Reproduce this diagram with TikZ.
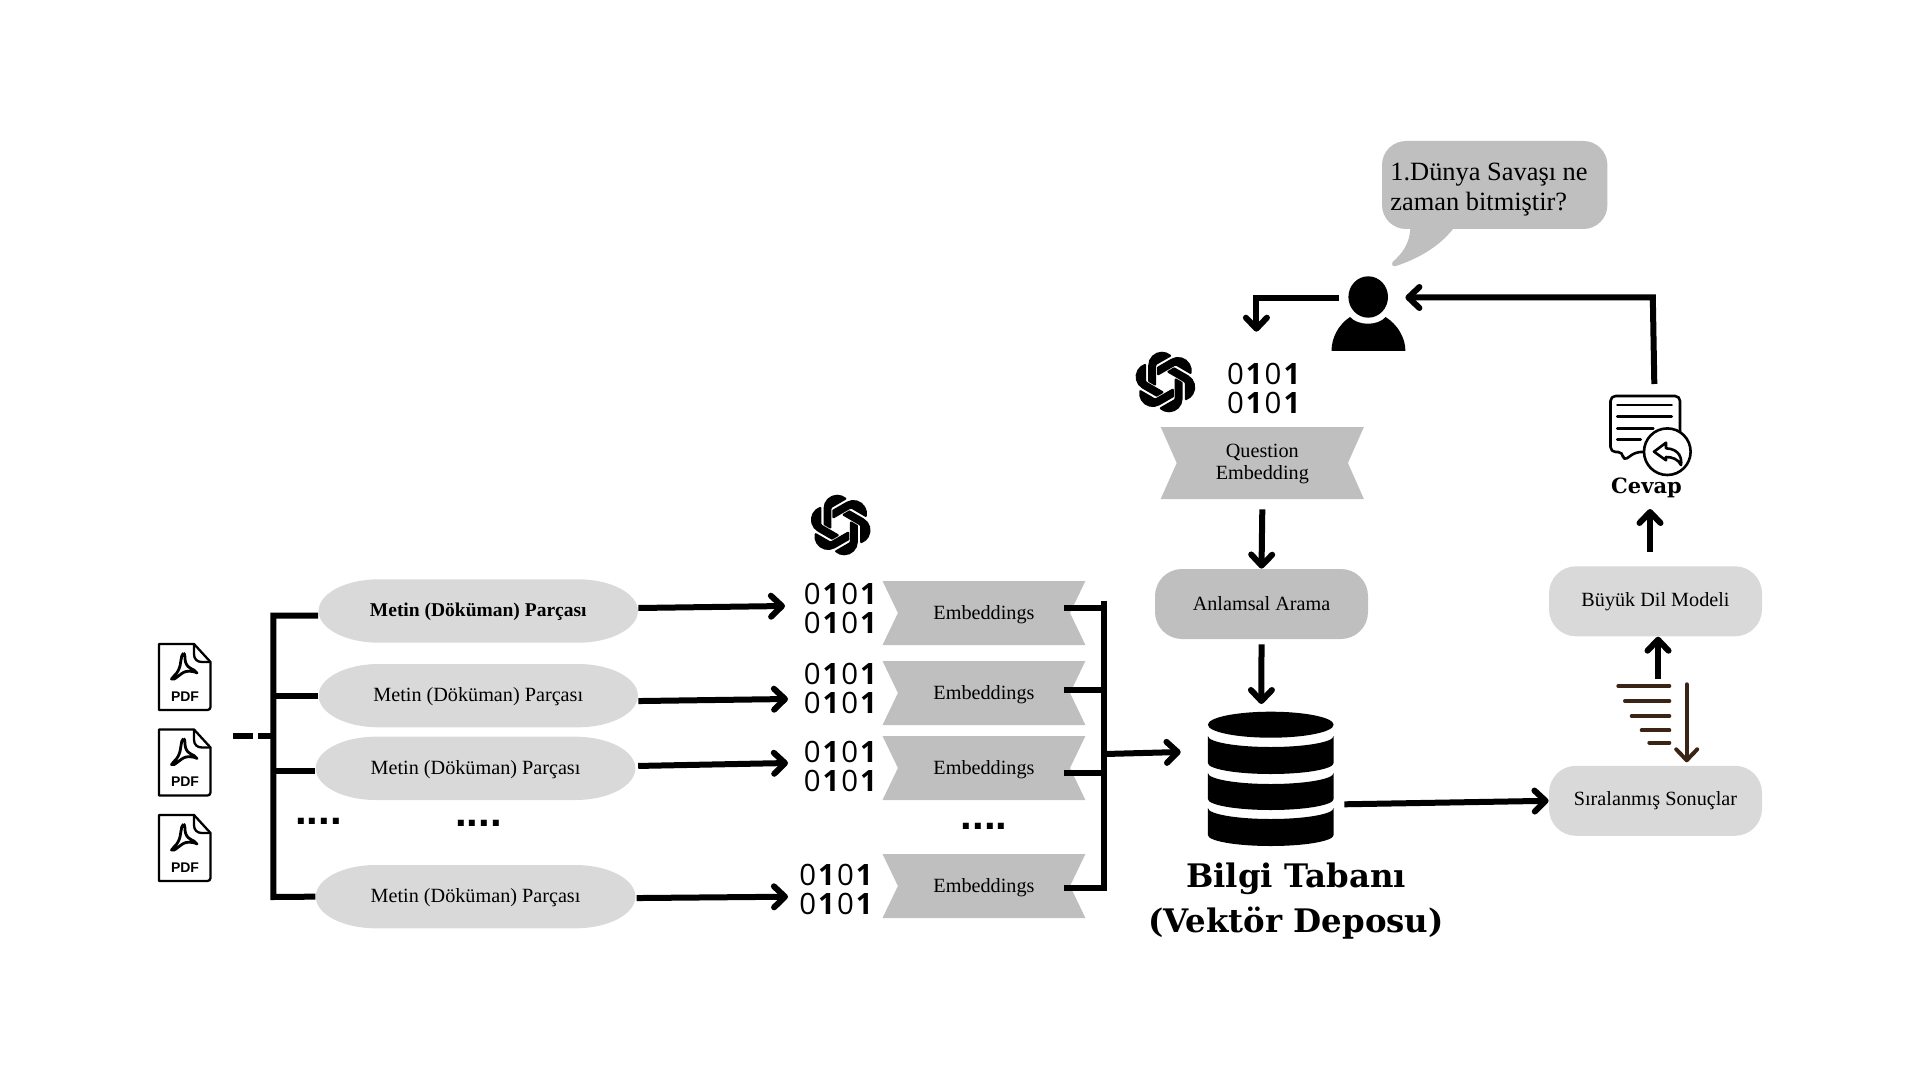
\documentclass[tikz,border=0pt]{standalone}
\usepackage{fontspec}
\usetikzlibrary{arrows.meta,svg.path,calc}
\setmainfont{Liberation Serif}
\newfontfamily\sansf{Liberation Sans}
\newfontfamily\bitf{Open Sans}
\newfontfamily\titlef{DejaVu Serif}
\definecolor{lightg}{HTML}{D9D9D9}
\definecolor{midg}{HTML}{BFBFBF}
\definecolor{brownl}{HTML}{3A2416}
\newcommand{\bitrow}{0\kern1pt{\bfseries 1}\kern1pt 0\kern1pt{\bfseries 1}}
\newcommand{\pillshape}[6]{%
  \fill[lightg] ({#2+60},#4) -- ({#3-60},#4)
    arc[start angle=-90,end angle=90,x radius=60,y radius={(#5-#4)/2}]
    -- ({#2+60},#5)
    arc[start angle=90,end angle=270,x radius=60,y radius={(#5-#4)/2}] -- cycle;
  \node[boxtext,minimum width={(#3-#2)*.5pt},minimum height={(#5-#4)*.5pt}] (#1) at ({(#2+#3)/2},{(#4+#5)/2}) {#6};}
\newcommand{\bannershape}[7]{%
  \fill[midg] (#2,#4) -- (#3,#4) -- ({#3-#6},{(#4+#5)/2}) -- (#3,#5) -- (#2,#5) -- ({#2+#6},{(#4+#5)/2}) -- cycle;
  \node[boxtext,align=center,minimum width={(#3-#2)*.5pt},minimum height={(#5-#4)*.5pt}] (#1) at ({(#2+#3)/2},{(#4+#5)/2}) {#7};}
\newcommand{\pdficon}[2]{%
  \begin{scope}[shift={(#1,#2)}]
    \draw[icon] (0,0) -- (35,0) -- (51.5,18) -- (51.5,63) arc[start angle=0,end angle=90,radius=3] -- (0,66) -- cycle;
    \draw[icon] (35,0) -- (35,10) .. controls (35,15) and (38,18) .. (43,18) -- (51.5,18);
    \draw[icon,line width=1.4pt] (24.5,9) .. controls (21,12) and (23,20) .. (19,27) .. controls (17,31) and (14,32) .. (12.5,35) .. controls (15,37.5) and (21,29) .. (27,27.5) .. controls (31,26.5) and (37,28) .. (38,29) .. controls (35,24) and (29,26) .. (26.5,18) .. controls (25.5,14) and (26.5,10) .. (24.5,9);
    \node[pdftext] at (26,52.5) {PDF};
  \end{scope}}
\newcommand{\oailogo}[2]{%
  \fill[black,draw=black,line width=1.1pt,line join=round,shift={(#1,#2)},yscale=-1,scale=1.4,shift={(-12pt,-12pt)}]
   svg "M 13.2599 22.4292 a 4.4755 4.4755 0 0 1 -2.8764 -1.0408 l 0.1419 -0.0804 l 4.7783 -2.7582 a 0.7948 0.7948 0 0 0 0.3927 -0.6813 v -6.7369 l 2.02 1.1686 a 0.071 0.071 0 0 1 0.038 0.052 v 5.5826 a 4.504 4.504 0 0 1 -4.4945 4.4944 z
   M 3.5992 18.3038 a 4.4708 4.4708 0 0 1 -0.5346 -3.0137 l 0.142 0.0852 l 4.783 2.7582 a 0.7712 0.7712 0 0 0 0.7806 0 l 5.8428 -3.3685 v 2.3324 a 0.0804 0.0804 0 0 1 -0.0332 0.0615 L 9.74 19.9502 a 4.4992 4.4992 0 0 1 -6.1408 -1.6464 z
   M 2.3408 7.8956 a 4.485 4.485 0 0 1 2.3655 -1.9728 V 11.6 a 0.7664 0.7664 0 0 0 0.3879 0.6765 l 5.8144 3.3543 l -2.0201 1.1685 a 0.0757 0.0757 0 0 1 -0.071 0 l -4.8303 -2.7865 A 4.504 4.504 0 0 1 2.3408 7.872 z
   M 18.9371 11.7514 L 13.1038 8.364 L 15.1192 7.2 a 0.0757 0.0757 0 0 1 0.071 0 l 4.8303 2.7913 a 4.4944 4.4944 0 0 1 -0.6765 8.1042 v -5.6772 a 0.79 0.79 0 0 0 -0.407 -0.667 z
   M 20.9478 8.7283 l -0.142 -0.0852 l -4.7735 -2.7818 a 0.7759 0.7759 0 0 0 -0.7854 0 L 9.409 9.2297 V 6.8974 a 0.0662 0.0662 0 0 1 0.0284 -0.0615 l 4.8303 -2.7866 a 4.4992 4.4992 0 0 1 6.6802 4.66 z
   M 8.3065 12.863 l -2.02 -1.1638 a 0.0804 0.0804 0 0 1 -0.038 -0.0567 V 6.0742 a 4.4992 4.4992 0 0 1 7.3757 -3.4537 l -0.142 0.0805 L 8.704 5.459 a 0.7948 0.7948 0 0 0 -0.3927 0.6813 z";}
\tikzset{
  boxtext/.style={inner sep=0pt,yshift=-.6pt,font=\fontsize{10.1pt}{11pt}\selectfont},
  pdftext/.style={inner sep=0pt,font=\sansf\bfseries\fontsize{7pt}{7pt}\selectfont},
  bits/.style={inner sep=0pt,align=center,font=\bitf\fontsize{14.7pt}{14.5pt}\selectfont},
  dotrow/.style={inner sep=0pt,anchor=base,font=\sansf\bfseries\fontsize{21pt}{21pt}\selectfont},
  rbox/.style={inner sep=0pt,font=\fontsize{10.1pt}{11pt}\selectfont,fill=#1,rounded corners=13.5pt,minimum width=106.5pt,minimum height=35pt},
  icon/.style={draw=black,line width=1.15pt,line join=round},
  replyicon/.style={draw=black,line width=1.3pt,line join=round},
  bar/.style={draw=black,line width=3pt},
  arr/.style={draw=black,line width=3pt,-{Straight Barb[round,length=5.5pt,width=10.5pt]}},
  brownbar/.style={draw=brownl,line width=2pt,line cap=round},
}
\begin{document}
\begin{tikzpicture}[x=0.5pt,y=-0.5pt]
\useasboundingbox (0,0) rectangle (1920,1080);
% PDF icons
\pdficon{159}{644}
\pdficon{159}{729.5}
\pdficon{159}{815}
% pills
\pillshape{m1}{318.6}{637.9}{579.3}{642.7}{\fontsize{9.75pt}{11pt}\selectfont\textbf{Metin (Döküman) Parçası}}
\pillshape{m2}{318.6}{637.9}{664}{727.3}{Metin (Döküman) Parçası}
\pillshape{m3}{315.7}{635.4}{736.7}{800}{Metin (Döküman) Parçası}
\pillshape{m4}{315.7}{635.4}{865}{928.3}{Metin (Döküman) Parçası}
% trunk
\coordinate (trbot) at (273.4,897);
\coordinate (pdfout) at (232.9,736);
\coordinate (trin) at (273.4,736);
\draw[bar] ([yshift=-1.75pt]m1.west) -| (trbot) -- ([yshift=.6pt]m4.west);
\draw[bar] ([yshift=.6pt]m2.west) -- ([yshift=.6pt]m2.west -| trbot);
\draw[bar] ([yshift=-.55pt]m3.west) -- ([yshift=-.55pt]m3.west -| trbot);
\draw[bar,dash pattern=on 10.1pt off 2.4pt] (pdfout) -- (trin);
\node[dotrow] (d1) at (318.4,824) {....};
\node[dotrow] (d2) at (478.4,826) {....};
\node[dotrow] (d3) at (984,829) {....};
% bits
\node[bits] (b1) at (840.4,608) {\bitrow\\\bitrow};
\node[bits] (b2) at (840.4,688.5) {\bitrow\\\bitrow};
\node[bits] (b3) at (840.4,766.5) {\bitrow\\\bitrow};
\node[bits] (b4) at (836,889.5) {\bitrow\\\bitrow};
\node[bits] (bq) at (1263.7,388) {\bitrow\\\bitrow};
\coordinate (t1) at (785,606);
\coordinate (t2) at (788,699);
\coordinate (t3) at (788,763);
\coordinate (t4) at (788,896.7);
\draw[arr] ([yshift=2.1pt]m1.east) -- (t1);
\draw[arr] ([yshift=-2.1pt]m2.east) -- (t2);
\draw[arr] ([yshift=1.8pt,xshift=1.2pt]m3.east) -- (t3);
\draw[arr] ([yshift=-.1pt,xshift=.4pt]m4.east) -- (t4);
% logos
\oailogo{840.7}{525}
\oailogo{1165.4}{382}
% banners
\bannershape{e1}{882.5}{1085.4}{581}{645}{15.4}{Embeddings}
\bannershape{e2}{882.5}{1085.4}{661}{725}{15.4}{Embeddings}
\bannershape{e3}{882.5}{1085.4}{736}{800}{15.4}{Embeddings}
\bannershape{e4}{882.5}{1085.4}{854}{918}{15.4}{Embeddings}
\bannershape{qe}{1160.7}{1363.9}{427}{499}{16}{Question\\Embedding}
% collector
\coordinate (ctop) at (1104,600.7);
\coordinate (cbot) at (1104,890.5);
\draw[bar] (ctop) -- (cbot);
\draw[bar] ([xshift=-10.7pt,yshift=3.1pt]e1.east) -- ([yshift=3.1pt]e1.east -| ctop);
\draw[bar] ([xshift=-10.7pt,yshift=2.1pt]e2.east) -- ([yshift=2.1pt]e2.east -| ctop);
\draw[bar] ([xshift=-10.7pt,yshift=-1.9pt]e3.east) -- ([yshift=-1.9pt]e3.east -| ctop);
\draw[bar] ([xshift=-10.7pt,yshift=-.4pt]e4.east) -- ([yshift=-.4pt]e4.east -| ctop);
\coordinate (cout) at (1105,754);
\coordinate (dbin1) at (1180.7,752);
\draw[arr] (cout) -- (dbin1);
% process boxes
\node[rbox=midg] (an) at (1261.5,604) {Anlamsal Arama};
\node[rbox=lightg] (bd) at (1655.5,601.3) {Büyük Dil Modeli};
\node[rbox=lightg] (sr) at (1655.5,800.8) {Sıralanmış Sonuçlar};
\coordinate (dbin2) at (1261.4,704);
\draw[arr] ([yshift=-4.4pt]qe.south) -- (an.north);
\draw[arr] ([yshift=-2.5pt]an.south) -- (dbin2);
% database
\fill (1207.9,724.7) arc[start angle=180,end angle=-180,x radius=62.85,y radius=13];
\foreach \yt/\yb in {736/763,773/799,808/835}{
  \fill (1207.9,\yt) arc[start angle=180,end angle=0,x radius=62.85,y radius=11] -- (1333.6,\yb) arc[start angle=0,end angle=180,x radius=62.85,y radius=11] -- cycle;
}
\node[inner sep=0pt,align=center,font=\titlef\bfseries\fontsize{16.2pt}{22.5pt}\selectfont] (kb) at (1296,901) {Bilgi Tabanı\\(Vektör Deposu)};
\coordinate (dbout) at (1344.3,804.3);
\draw[arr] (dbout) -- (sr.west);
% ranking icon
\foreach \xs/\yy in {1618.3/686,1625/701,1631.7/716,1641.7/730.3,1649.3/742.7}{
  \draw[brownbar] (\xs,\yy) -- (1669.3,\yy);
}
\coordinate (rka) at (1686.7,684.3);
\coordinate (rkb) at (1686.7,762.3);
\draw[brownbar,-{Straight Barb[round,length=5.5pt,width=10.5pt]}] (rka) -- (rkb);
\coordinate (rku) at (1658,679);
\draw[arr] (rku) -- ([xshift=1.25pt]bd.south);
% answer
\coordinate (cvfrom) at (1650,552);
\coordinate (cvto) at (1650,509);
\draw[arr] (cvfrom) -- (cvto);
\node[inner sep=0pt,anchor=base,font=\titlef\bfseries\fontsize{10.5pt}{11pt}\selectfont] (cv) at (1646.5,493) {Cevap};
\draw[replyicon,rounded corners=2.5pt] (1680,432) -- (1680,396) -- (1610.5,396) -- (1610.5,452) -- (1623,452) -- (1623,461) -- (1636,452) -- (1645,452);
\draw[replyicon,line cap=round] (1617.3,405) -- (1671.7,405);
\draw[replyicon,line cap=round] (1617.3,416.7) -- (1671.7,416.7);
\draw[replyicon,line cap=round] (1617.3,428.3) -- (1653.3,428.3);
\draw[replyicon,line cap=round] (1617.3,439.3) -- (1640.7,439.3);
\draw[replyicon,fill=white] (1667.3,451.7) circle[radius=23.3];
\draw[replyicon] (1654,451.7) -- (1666,442.7) -- (1666,448.3) .. controls (1680,449) and (1682,459) .. (1681,465) .. controls (1678,459) and (1672,457) .. (1666,457) -- (1666,460.3) -- cycle;
% user
\fill (1368.2,297) ellipse[x radius=19.8,y radius=20.7];
\fill (1331.5,351) .. controls (1331.5,338) and (1338,325) .. (1350,317) .. controls (1358,326) and (1378,326) .. (1385.6,317) .. controls (1398,325) and (1405.4,338) .. (1405.4,351) -- cycle;
\coordinate (ufrom) at (1338.6,297.7);
\coordinate (ucorner) at (1256.4,297.7);
\coordinate (uto) at (1256.4,331.7);
\draw[arr] (ufrom) -- (ucorner) -- (uto);
\coordinate (rfrom) at (1654.3,384);
\coordinate (rcorner) at (1652.8,297.5);
\coordinate (rto) at (1405.4,297.5);
\draw[arr] (rfrom) -- (rcorner) -- (rto);
% bubble
\fill[midg] (1410.5,225) .. controls (1410,245) and (1402,253) .. (1392.7,262) .. controls (1391,265) and (1393,267) .. (1396,266) .. controls (1420,258) and (1442,245) .. (1456,225) -- cycle;
\node[fill=midg,rounded corners=12pt,minimum width=112.7pt,minimum height=44pt,inner sep=0pt] (bub) at (1494.7,185) {};
\node[inner sep=0pt,anchor=base west,font=\fontsize{13.2pt}{15pt}\selectfont] (ql1) at (1390,181) {1.Dünya Savaşı ne};
\node[inner sep=0pt,anchor=base west,font=\fontsize{13.2pt}{15pt}\selectfont] (ql2) at (1390,211) {zaman bitmiştir?};
\end{tikzpicture}
\end{document}
